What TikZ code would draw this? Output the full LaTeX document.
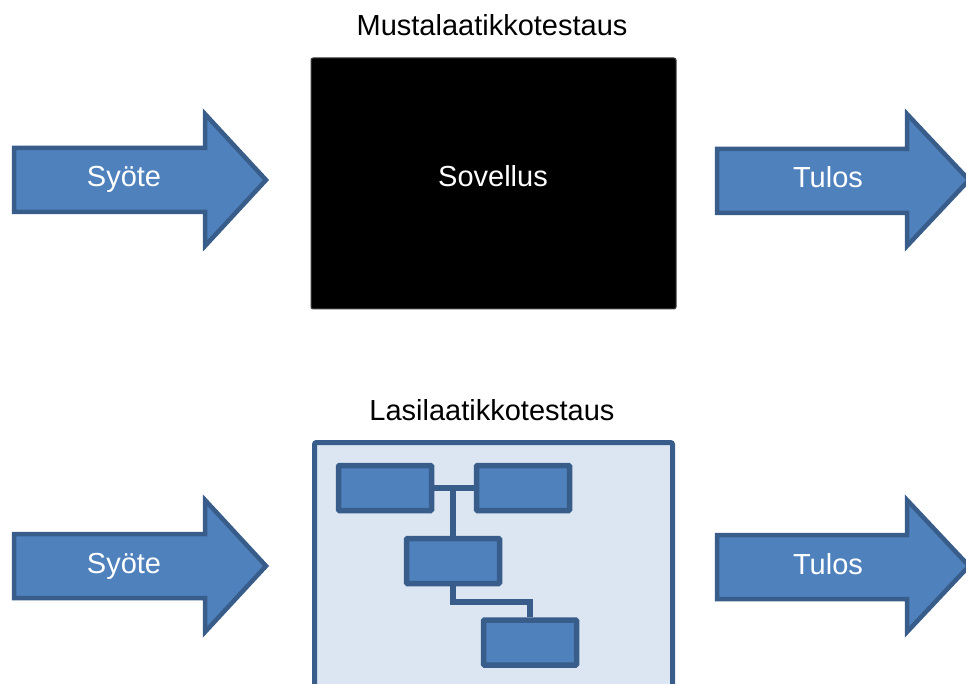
\documentclass[tikz,border=0pt]{standalone}
\usepackage{fontspec}
\setmainfont{Liberation Sans}
\definecolor{blfill}{HTML}{4F81BD}
\definecolor{blline}{HTML}{385D8A}
\definecolor{glass}{HTML}{DCE6F2}
\begin{document}
\begin{tikzpicture}[x=1pt,y=-1pt,
  bigarrow/.style={fill=blfill,draw=blline,line width=4.5pt,line join=miter},
  lbl/.style={font=\fontsize{29}{34}\selectfont,inner sep=0pt,anchor=base},
  wlbl/.style={lbl,text=white},
  unit/.style={draw=blline,fill=blfill,line width=5.5pt,minimum width=93pt,minimum height=45pt,inner sep=0pt,rounded corners=1pt},
  link/.style={draw=blline,line width=5.5pt}]
\useasboundingbox (0,0) rectangle (966,684);
\clip (0,0) rectangle (966,684);
\fill[white] (0,0) rectangle (966,684);
% top row
\node[lbl] (title1) at (492,36) {Mustalaatikkotestaus};
\draw[fill=black,draw=black!75,line width=1pt,rounded corners=2pt] (311,58) rectangle (676,309);
\node[wlbl] (app) at (493,187) {Sovellus};
\foreach \dy in {0,386}{
  \begin{scope}[yshift=-\dy pt]
  \draw[bigarrow] (14,148) -- (205,148) -- (205,114) -- (266,180) -- (205,246) -- (205,212) -- (14,212) -- cycle;
  \draw[bigarrow] (717,149) -- (907,149) -- (907,114) -- (969,180) -- (907,246) -- (907,213) -- (717,213) -- cycle;
  \end{scope}
}
\node[wlbl] (in1) at (124,187) {Syöte};
\node[wlbl] (out1) at (828,188) {Tulos};
\node[wlbl] (in2) at (124,573) {Syöte};
\node[wlbl] (out2) at (828,574) {Tulos};
% bottom row
\node[lbl] (title2) at (492,420) {Lasilaatikkotestaus};
\draw[fill=glass,draw=blline,line width=5pt,rounded corners=2pt] (314.5,442.5) rectangle (672.5,720);
\node[unit] (b1) at (385,488) {};
\node[unit] (b2) at (523,488) {};
\node[unit] (b3) at (453,561) {};
\node[unit] (b4) at (530,642.5) {};
\coordinate (j1) at (453,488);
\coordinate (j2) at (453,602);
\draw[link] (b1.east) -- (b2.west);
\draw[link] (j1) -- (b3.north);
\draw[link] (b3.south) -- (j2) -| (b4.north);
\end{tikzpicture}
\end{document}
